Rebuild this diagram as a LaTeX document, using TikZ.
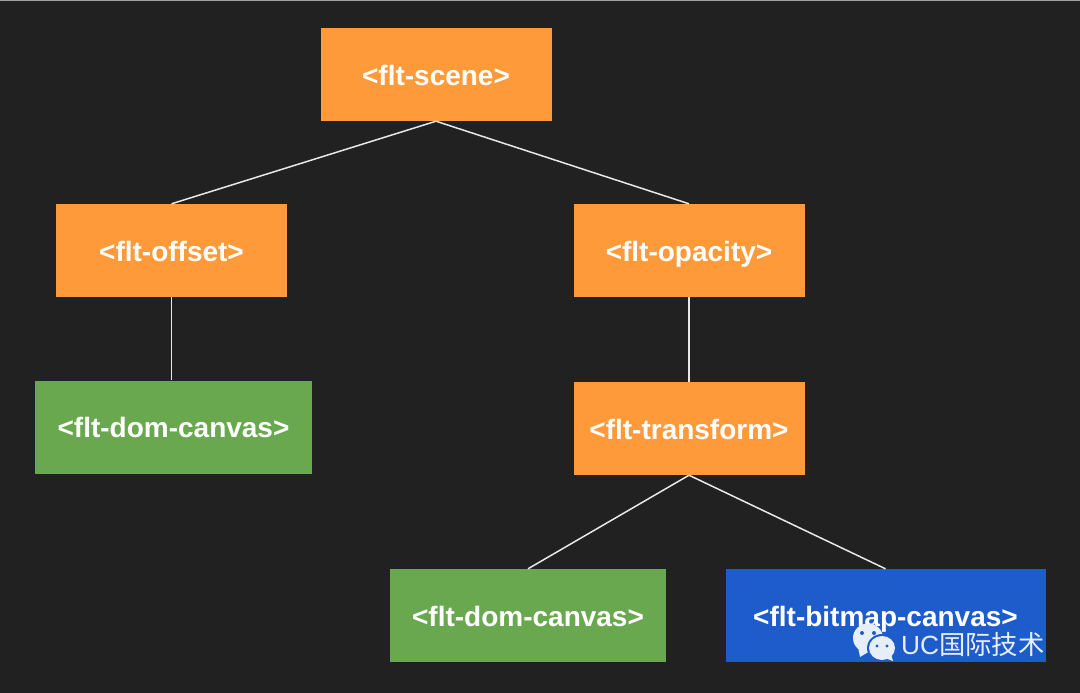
\documentclass[tikz,border=0pt]{standalone}
\usepackage{fontspec}
\setmainfont{Liberation Sans}
\newfontfamily\cjk{Noto Sans CJK SC}
\definecolor{bgdark}{HTML}{212121}
\definecolor{boxorange}{HTML}{FF9A3A}
\definecolor{boxgreen}{HTML}{6AA84F}
\definecolor{boxblue}{HTML}{1F5CCB}
\definecolor{linkgrey}{HTML}{E8E8E8}
\definecolor{markwhite}{HTML}{E6EEF8}
\tikzset{
  x=1pt, y=-1pt,
  treebox/.style={minimum height=93pt, inner sep=0pt, text=white,
    text height=26pt, text depth=5pt,
    font=\fontsize{28}{32}\selectfont\bfseries, anchor=center},
  orangebox/.style={treebox, fill=boxorange, minimum width=231pt},
  greenbox/.style={treebox, fill=boxgreen, minimum width=277pt},
  bluebox/.style={treebox, fill=boxblue, minimum width=320pt},
  link/.style={draw=linkgrey, line width=1.5pt},
  chat/.style={fill=markwhite, draw=none},
  chateye/.style={fill=boxblue, draw=none}
}
\begin{document}
\begin{tikzpicture}
\useasboundingbox (0,0) rectangle (1080,693);
\fill[bgdark] (0,0) rectangle (1080,693);
\fill[linkgrey!70!black] (0,0) rectangle (1080,1.2);

% Tree nodes
\node[orangebox] (scene) at (436,74.5) {<flt-scene>};
\node[orangebox] (offset) at (171.5,250.5) {<flt-offset>};
\node[orangebox] (opacity) at (689,250.5) {<flt-opacity>};
\node[greenbox] (domleft) at (173.5,427) {<flt-dom-canvas>};
\node[orangebox] (transform) at (689,428.5) {<flt-transform>};
\node[greenbox, minimum width=276pt] (domright) at (528,615.5) {<flt-dom-canvas>};
\node[bluebox] (bitmap) at (885.5,615.5) {<flt-bitmap-canvas>};

% Connectors
\draw[link] (scene.south) -- (offset.north);
\draw[link] (scene.south) -- (opacity.north);
\draw[link] (offset.south) -- (offset.south |- domleft.north);
\draw[link] (opacity.south) -- (transform.north);
\draw[link] (transform.south) -- (domright.north);
\draw[link] (transform.south) -- (bitmap.north);

% Messaging mark and account name
\fill[chat] (868,638) ellipse (15pt and 14.5pt);
\fill[chat] (858,647) -- (860,657) -- (870,651) -- cycle;
\fill[chateye] (862,633) circle (2pt);
\fill[chateye] (874,633) circle (2pt);
\fill[boxblue] (882,648) ellipse (15pt and 14pt);
\fill[chat] (882,648) ellipse (13pt and 12pt);
\fill[chat] (885,658) -- (893,661) -- (891,654) -- cycle;
\fill[chateye] (877,646) circle (1.7pt);
\fill[chateye] (887,646) circle (1.7pt);
\node[anchor=west, inner sep=0pt, text=markwhite, font=\fontsize{26.3}{30}\selectfont] (account) at (901,645) {UC{\cjk 国际技术}};
\end{tikzpicture}
\end{document}
